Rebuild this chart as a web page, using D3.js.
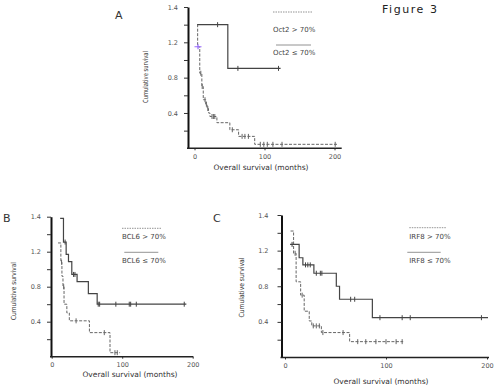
<!DOCTYPE html>
<html><head><meta charset="utf-8">
<script src="https://cdn.jsdelivr.net/npm/d3@7"></script>
<style>
body{margin:0;background:#fff}
svg text{font-family:"DejaVu Sans",Verdana,sans-serif}
</style></head><body>
<svg id="fig" width="500" height="387"></svg>
<script>
// y ticks every 0.2, only some labelled (as printed on the figure)
const yTicks = [0.2, 0.4, 0.6, 0.8, 1.0, 1.2, 1.4, 1.6];
const yTickLabels = ["", "0.4", "", "0.8", "", "1.2", "", "1.4"];
const xTicks = [0, 100, 200];

// Panel A - Oct2
const octHighT = [3.8, 4.5, 7.5, 10.5, 12.5, 16, 18, 20, 22, 32, 50.5, 63, 86, 205];
const octHighS = [1.40, 1.15, 0.85, 0.70, 0.55, 0.50, 0.45, 0.40, 0.36, 0.29, 0.21, 0.135, 0.045, 0.045];
const octHighCens = [9, 11, 15, 17, 19, 25, 27, 29, 54, 68, 72, 77, 94, 99, 104, 112, 125, 201];
const octLowT = [3.8, 47.6, 123];
const octLowS = [1.40, 0.905, 0.905];
const octLowCens = [33, 62, 120];
const octMark = [5, 1.15];

// Panel B - BCL6
const bclHighT = [9, 13, 14.5, 16, 17.5, 21.5, 25, 53.5, 82.7, 97];
const bclHighS = [1.30, 1.08, 0.92, 0.80, 0.60, 0.50, 0.41, 0.275, 0.046, 0.046];
const bclHighCens = [14, 17, 34.6, 74.6, 89.7, 93];
const bclLowT = [12, 16.7, 20.5, 23.8, 28.5, 36, 52, 64.5, 191];
const bclLowS = [1.58, 1.31, 1.17, 1.086, 0.94, 0.857, 0.72, 0.60, 0.60];
const bclLowCens = [19, 31, 33, 66, 68, 91, 110, 112, 120, 188];

// Panel C - IRF8
const irfHighT = [5.5, 8.5, 11, 15.5, 19, 24, 26.5, 36, 64, 117];
const irfHighS = [1.42, 1.17, 0.85, 0.70, 0.52, 0.41, 0.355, 0.28, 0.178, 0.178];
const irfHighCens = [10, 17, 28, 31, 34, 37.5, 57.5, 72, 80, 90, 100, 110, 116];
const irfLowT = [5, 14, 17.7, 28.6, 50.8, 54, 86.5, 201];
const irfLowS = [1.27, 1.12, 1.04, 0.946, 0.80, 0.654, 0.447, 0.447];
const irfLowCens = [7, 20.3, 22.6, 25, 31, 35, 36.5, 65, 69, 94, 116, 124, 194.5];

const svg = d3.select('#fig');
const SOLID = '#444', DASH = '#666';

function stepAt(T, S, t) {
  let v = S[0];
  T.forEach((tt, i) => { if (tt <= t) v = S[i]; });
  return v;
}

function drawPanel(p) {
  const g = svg.append('g');
  const x = d3.scaleLinear().domain([0, 200]).range([p.x0, p.x200]);
  const y = d3.scaleLinear().domain([0, 1.6]).range([p.bottom, p.top]);

  const ya = g.append('g').attr('transform', `translate(${p.left},0)`)
    .call(d3.axisLeft(y).tickValues(yTicks).tickSize(4).tickSizeOuter(0).tickPadding(p.pad)
      .tickFormat((d, i) => yTickLabels[i]));
  ya.select('.domain').attr('stroke', '#111').attr('stroke-width', 2);
  ya.selectAll('.tick line').attr('stroke', '#333');
  ya.selectAll('text').attr('font-size', 6.5).attr('fill', '#555').attr('font-family', 'DejaVu Sans');

  const xa = g.append('g').attr('transform', `translate(0,${p.bottom})`)
    .call(d3.axisBottom(x).tickValues(xTicks).tickSize(2).tickPadding(4));
  xa.select('.domain').remove();
  xa.selectAll('.tick line').attr('stroke', '#333');
  xa.selectAll('text').attr('font-size', 6.5).attr('fill', '#555').attr('font-family', 'DejaVu Sans');
  g.append('line').attr('x1', p.left - 1).attr('x2', p.right).attr('y1', p.bottom).attr('y2', p.bottom)
    .attr('stroke', '#222').attr('stroke-width', 1.5);

  const line = d3.line().x(d => x(d[0])).y(d => y(d[1])).curve(d3.curveStepAfter);
  p.curves.forEach(c => {
    const pts = c.T.map((t, i) => [t, c.S[i]]);
    g.append('path').attr('d', line(pts)).attr('fill', 'none')
      .attr('stroke', c.dashed ? DASH : SOLID).attr('stroke-width', c.dashed ? 1 : 1.2)
      .attr('stroke-dasharray', c.dashed ? '3,1.5' : null);
    g.selectAll(null).data(c.cens).enter().append('line')
      .attr('x1', d => x(d)).attr('x2', d => x(d))
      .attr('y1', d => y(stepAt(c.T, c.S, d)) - 2.5).attr('y2', d => y(stepAt(c.T, c.S, d)) + 2.5)
      .attr('stroke', c.dashed ? DASH : SOLID).attr('stroke-width', 1);
  });

  // axis titles
  g.append('text').attr('x', p.xlab[0]).attr('y', p.xlab[1]).attr('text-anchor', 'middle')
    .attr('font-size', 7.5).attr('fill', '#333').text('Overall survival (months)');
  g.append('text').attr('transform', `translate(${p.ylab[0]},${p.ylab[1]}) rotate(-90)`)
    .attr('text-anchor', 'middle').attr('font-size', 7).attr('fill', '#333')
    .attr('font-family', '"Liberation Sans Narrow","DejaVu Sans Condensed",sans-serif')
    .attr('textLength', p.ylab[2]).attr('lengthAdjust', 'spacingAndGlyphs')
    .text('Cumulative survival');

  // legend
  const L = p.legend;
  g.append('line').attr('x1', L.x1[0]).attr('x2', L.x1[1]).attr('y1', L.y1).attr('y2', L.y1)
    .attr('stroke', '#777').attr('stroke-width', 0.8).attr('stroke-dasharray', '1.5,1');
  g.append('text').attr('x', L.tx).attr('y', L.t1).attr('font-size', 7).attr('fill', '#444').text(L.lab1);
  g.append('line').attr('x1', L.x2[0]).attr('x2', L.x2[1]).attr('y1', L.y2).attr('y2', L.y2)
    .attr('stroke', '#777').attr('stroke-width', 0.8);
  g.append('text').attr('x', L.tx).attr('y', L.t2).attr('font-size', 7).attr('fill', '#444').text(L.lab2);

  g.append('text').attr('x', p.tag[0]).attr('y', p.tag[1]).attr('font-size', 11)
    .attr('font-family', 'Liberation Sans').attr('fill', '#333').text(p.id);
  return { x, y, g };
}

const A = drawPanel({
  id: 'A', left: 188, top: 7, bottom: 148.3, right: 341.7, x0: 194.5, x200: 334.5, pad: 6,
  xlab: [261, 169.5], ylab: [147.5, 77, 52], tag: [115, 19],
  legend: { x1: [273, 312], y1: 12, x2: [276, 311], y2: 45, tx: 273, t1: 31.5, t2: 55,
    lab1: 'Oct2 > 70%', lab2: 'Oct2 \u2264 70%' },
  curves: [
    { T: octHighT, S: octHighS, cens: octHighCens, dashed: true },
    { T: octLowT, S: octLowS, cens: octLowCens, dashed: false }
  ]
});
// purple censor mark in panel A
A.g.append('path')
  .attr('d', `M${A.x(octMark[0]) - 3.5},${A.y(octMark[1])}h7M${A.x(octMark[0])},${A.y(octMark[1]) - 2.5}v5`)
  .attr('stroke', '#9a6cff').attr('stroke-width', 1.2);

drawPanel({
  id: 'B', left: 51, top: 216.7, bottom: 356.7, right: 193.3, x0: 51.7, x200: 192.7, pad: 6,
  xlab: [130, 377], ylab: [15.5, 291, 58], tag: [3, 222],
  legend: { x1: [122, 162], y1: 228.3, x2: [124.3, 158.3], y2: 252.3, tx: 122, t1: 238.5, t2: 262.5,
    lab1: 'BCL6 > 70%', lab2: 'BCL6 \u2264 70%' },
  curves: [
    { T: bclHighT, S: bclHighS, cens: bclHighCens, dashed: true },
    { T: bclLowT, S: bclLowS, cens: bclLowCens, dashed: false }
  ]
});

drawPanel({
  id: 'C', left: 281.5, top: 215, bottom: 357.5, right: 489, x0: 285, x200: 487, pad: 9,
  xlab: [381, 384], ylab: [244, 287.5, 60], tag: [213, 222],
  legend: { x1: [409.3, 446.7], y1: 227.7, x2: [407.3, 440.7], y2: 252.3, tx: 409.3, t1: 238.5, t2: 262.5,
    lab1: 'IRF8 > 70%', lab2: 'IRF8 \u2264 70%' },
  curves: [
    { T: irfHighT, S: irfHighS, cens: irfHighCens, dashed: true },
    { T: irfLowT, S: irfLowS, cens: irfLowCens, dashed: false }
  ]
});

svg.append('text').attr('x', 382).attr('y', 13).attr('font-size', 11)
  .attr('font-family', 'Liberation Sans').attr('fill', '#222')
  .attr('textLength', 55).attr('lengthAdjust', 'spacing').text('Figure 3');
</script>
</body></html>
